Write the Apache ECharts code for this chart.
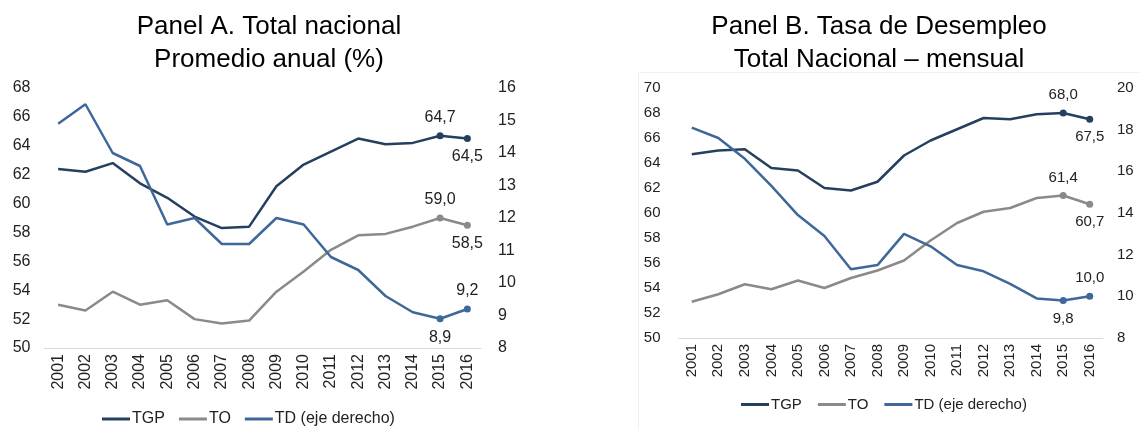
<!DOCTYPE html>
<html>
<head>
<meta charset="utf-8">
<script src="https://cdn.jsdelivr.net/npm/echarts@6/dist/echarts.min.js"></script>
<style>
  html, body { margin: 0; padding: 0; background: #fff; }
  #myChart { width: 1139px; height: 429px; }
</style>
</head>
<body>
<div id="myChart"></div>
<script>
// años
var years = ['2001','2002','2003','2004','2005','2006','2007','2008','2009','2010','2011','2012','2013','2014','2015','2016'];

// Panel A - promedio anual
var tgpA = [62.4, 62.2, 62.8, 61.4, 60.4, 59.1, 58.3, 58.4, 61.2, 62.7, 63.6, 64.5, 64.1, 64.2, 64.7, 64.5];
var toA  = [53.0, 52.6, 53.9, 53.0, 53.3, 52.0, 51.7, 51.9, 53.9, 55.3, 56.8, 57.8, 57.9, 58.4, 59.0, 58.5];
var tdA  = [14.9, 15.5, 14.0, 13.6, 11.8, 12.0, 11.2, 11.2, 12.0, 11.8, 10.8, 10.4, 9.6, 9.1, 8.9, 9.2];

// Panel B - mensual
var tgpB = [64.7, 65.0, 65.1, 63.6, 63.4, 62.0, 61.8, 62.5, 64.6, 65.8, 66.7, 67.6, 67.5, 67.9, 68.0, 67.5];
var toB  = [52.9, 53.5, 54.3, 53.9, 54.6, 54.0, 54.8, 55.4, 56.2, 57.8, 59.2, 60.1, 60.4, 61.2, 61.4, 60.7];
var tdB  = [18.1, 17.6, 16.6, 15.3, 13.9, 12.9, 11.3, 11.5, 13.0, 12.4, 11.5, 11.2, 10.6, 9.9, 9.8, 10.0];

// posiciones de etiqueta para 2015 y 2016
var posTGP = ['top', 'bottom'];
var posTO  = ['top', 'bottom'];
var posTD  = ['bottom', 'top'];

var colTGP = '#25405f', colTO = '#8a8a8a', colTD = '#3d6899';
var font = 'Liberation Sans, Arial, sans-serif';

function fmt(p) {
  return Number(p.value).toFixed(1).replace('.', ',');
}

// marca los dos últimos puntos con símbolo y etiqueta
function mark(arr, pos, color, fs) {
  return arr.map(function (v, i) {
    if (i < arr.length - 2) return v;
    return {
      value: v,
      symbol: 'circle',
      symbolSize: 7,
      itemStyle: { color: color },
      label: {
        show: true,
        position: pos[i - (arr.length - 2)],
        distance: 7,
        formatter: fmt,
        color: '#222',
        fontSize: fs,
        fontFamily: font
      }
    };
  });
}

function lineSeries(name, arr, pos, color, gi, yi, fs) {
  return {
    name: name,
    type: 'line',
    xAxisIndex: gi,
    yAxisIndex: yi,
    symbol: 'none',
    animation: false,
    lineStyle: { color: color, width: 2.5 },
    itemStyle: { color: color },
    data: mark(arr, pos, color, fs)
  };
}

function xAx(gi, fs) {
  return {
    type: 'category',
    gridIndex: gi,
    data: years,
    boundaryGap: true,
    axisLine: { lineStyle: { color: '#d9d9d9', width: 1 } },
    axisTick: { show: false },
    axisLabel: { rotate: 90, color: '#222', fontSize: fs, fontFamily: font, margin: 6, interval: 0 }
  };
}

function yAx(gi, pos, min, max, interval, fs, margin) {
  return {
    type: 'value',
    gridIndex: gi,
    position: pos,
    min: min,
    max: max,
    interval: interval,
    axisLine: { show: false },
    axisTick: { show: false },
    splitLine: { show: false },
    axisLabel: { color: '#222', fontSize: fs, fontFamily: font, margin: margin }
  };
}

var Chart = echarts.init(document.getElementById('myChart'));
Chart.setOption({
  backgroundColor: '#fff',
  graphic: [
    {
      type: 'rect',
      shape: { x: 638.5, y: 72.5, width: 520, height: 380 },
      style: { fill: 'none', stroke: '#f0f0f0', lineWidth: 1 },
      silent: true
    }
  ],
  title: [
    {
      text: 'Panel A. Total nacional\nPromedio anual (%)',
      left: 264, top: 5, textAlign: 'center',
      textStyle: { fontSize: 26, fontWeight: 'normal', color: '#000', lineHeight: 33, fontFamily: font }
    },
    {
      text: 'Panel B. Tasa de Desempleo\nTotal Nacional \u2013 mensual',
      left: 874, top: 5, textAlign: 'center',
      textStyle: { fontSize: 26, fontWeight: 'normal', color: '#000', lineHeight: 33, fontFamily: font }
    }
  ],
  legend: [
    {
      data: ['TGP', 'TO', 'TD (eje derecho)'],
      left: 97, top: 406,
      icon: 'rect', itemWidth: 28, itemHeight: 3, itemGap: 14,
      selectedMode: false,
      textStyle: { fontSize: 16, color: '#222', fontFamily: font, padding: [0, 0, 0, -3] }
    },
    {
      data: ['TGP', 'TO', 'TD (eje derecho)'],
      left: 736, top: 392,
      icon: 'rect', itemWidth: 28, itemHeight: 3, itemGap: 16,
      selectedMode: false,
      textStyle: { fontSize: 15, color: '#222', fontFamily: font, padding: [0, 0, 0, -3] }
    }
  ],
  grid: [
    { left: 44.5, top: 88, width: 436.5, height: 260 },
    { left: 678.5, top: 88, width: 424.5, height: 250 }
  ],
  xAxis: [ xAx(0, 16), xAx(1, 15) ],
  yAxis: [
    yAx(0, 'left', 50, 68, 2, 16, 14),
    yAx(0, 'right', 8, 16, 1, 16, 17),
    yAx(1, 'left', 50, 70, 2, 15, 18),
    yAx(1, 'right', 8, 20, 2, 15, 14)
  ],
  series: [
    lineSeries('TGP', tgpA, posTGP, colTGP, 0, 0, 16),
    lineSeries('TO', toA, posTO, colTO, 0, 0, 16),
    lineSeries('TD (eje derecho)', tdA, posTD, colTD, 0, 1, 16),
    lineSeries('TGP', tgpB, posTGP, colTGP, 1, 2, 15),
    lineSeries('TO', toB, posTO, colTO, 1, 2, 15),
    lineSeries('TD (eje derecho)', tdB, posTD, colTD, 1, 3, 15)
  ]
}, true);
</script>
</body>
</html>
